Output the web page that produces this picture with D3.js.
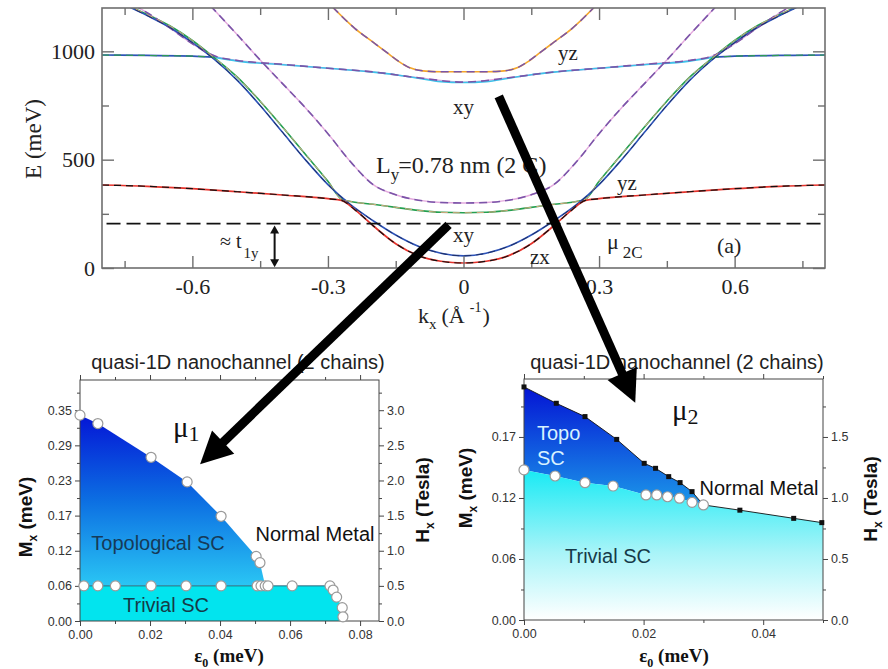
<!DOCTYPE html>
<html><head><meta charset="utf-8">
<script src="https://cdn.jsdelivr.net/npm/d3@7"></script>
<style>body{margin:0;background:#fff;} svg{display:block;}</style>
</head><body><svg id="c" width="888" height="669"></svg>
<script>
// ================= DATA =================
// --- Top panel: band structure E(kx), listed for kx >= 0 (bands are symmetric in kx)
const bandRed    = [[0,23],[0.05,31],[0.1,57],[0.15,112],[0.2,195],[0.24,268],[0.27,312],[0.3,320],[0.4,337],[0.5,352],[0.6,366],[0.7,377],[0.8,383]];
const bandBlue   = [[0,56],[0.05,68],[0.1,100],[0.15,152],[0.2,218],[0.25,292],[0.3,385],[0.35,500],[0.4,625],[0.45,750],[0.5,865],[0.55,960],[0.6,1040],[0.65,1110],[0.7,1165],[0.75,1215]];
const bandGreen  = [[0,255],[0.05,257],[0.1,266],[0.15,280],[0.2,294],[0.25,307],[0.27,318],[0.3,400],[0.35,525],[0.4,650],[0.45,770],[0.5,880],[0.55,968],[0.6,1050],[0.65,1118],[0.7,1170],[0.75,1218]];
const bandCyan   = [[0,856],[0.05,860],[0.1,876],[0.15,892],[0.2,904],[0.3,922],[0.4,938],[0.5,955],[0.55,972]];
const bandFlat   = [[0.55,972],[0.6,978],[0.7,981],[0.8,983]];
const bandOrange = [[0,906],[0.05,906],[0.09,910],[0.12,925],[0.14,949],[0.17,995],[0.2,1042],[0.24,1105],[0.29,1205]];
const bandF      = [[0,300],[0.05,302],[0.1,313],[0.15,338],[0.2,385],[0.25,490],[0.3,620],[0.35,740],[0.4,850],[0.45,960],[0.5,1075],[0.56,1210]];
const bandG      = [[0,858],[0.1,878],[0.2,905],[0.3,922],[0.4,940],[0.5,958],[0.55,978],[0.6,1035],[0.65,1108],[0.7,1178],[0.73,1215]];
const fermiE = 205;
const topXTicks = [-0.6,-0.3,0,0.3,0.6];
const topXTickLabels = ["-0.6","-0.3","0","0.3","0.6"];
const topXMinor = [-0.75,-0.45,-0.15,0.15,0.45,0.75];
const topYTicks = [0,500,1000];
const topYTickLabels = ["0","500","1000"];
const topYMinor = [250,750];

// --- Bottom-left phase diagram (x: eps0 meV, y: Hx Tesla)
const blUpper = [[0,2.93],[0.0051,2.81],[0.0203,2.33],[0.0306,1.98],[0.0403,1.49],[0.0503,0.92],[0.0514,0.83]];
const blFootX = 0.0529;
const blMid   = [[0.0011,0.5],[0.0051,0.5],[0.0101,0.5],[0.0203,0.5],[0.0303,0.5],[0.0403,0.5],[0.0506,0.5],[0.0517,0.5],[0.0529,0.5],[0.0537,0.5],[0.0606,0.5],[0.0714,0.5]];
const blEdge  = [[0.0714,0.5],[0.0723,0.44],[0.0733,0.34],[0.0749,0.19],[0.0751,0.06]];
const blEdgeFootX = 0.0743;
const blXTicks = [0,0.02,0.04,0.06,0.08];
const blXTickLabels = ["0.00","0.02","0.04","0.06","0.08"];
const blXMinor = [0.01,0.03,0.05,0.07];
const blYTicks = [0,0.5,1.0,1.5,2.0,2.5,3.0];
const blYLeftLabels = ["0.00","0.06","0.12","0.17","0.23","0.29","0.35"];
const blYRightLabels = ["0.0","0.5","1.0","1.5","2.0","2.5","3.0"];
const blYMinor = [0.25,0.75,1.25,1.75,2.25,2.75,3.25];

// --- Bottom-right phase diagram
const brUpper = [[0,1.91],[0.0054,1.776],[0.0102,1.667],[0.0155,1.48],[0.0201,1.284],[0.022,1.243],[0.0242,1.175],[0.0261,1.126],[0.0281,1.052]];
const brTail  = [[0.030,0.943],[0.0361,0.90],[0.0451,0.833],[0.0498,0.798],[0.05,0.795]];
const brTailSquares = [[0.0361,0.90],[0.0451,0.833],[0.0498,0.798]];
const brLower = [[0,1.23],[0.0052,1.18],[0.0102,1.125],[0.0149,1.098],[0.0204,1.025],[0.0222,1.025],[0.024,1.01],[0.026,0.998],[0.0281,0.964],[0.030,0.943]];
const brXTicks = [0,0.02,0.04];
const brXTickLabels = ["0.00","0.02","0.04"];
const brXMinor = [0.01,0.03,0.05];
const brYTicks = [0,0.5,1.0,1.5];
const brYLeftLabels = ["0.00","0.06","0.12","0.17"];
const brYRightLabels = ["0.0","0.5","1.0","1.5"];
const brYMinor = [0.25,0.75,1.25,1.75];

// --- Arrow anchors (data units of the panels they connect)
const arrow1From = [-0.033,199];   // top panel (k, E)
const arrow1To   = [0.0343,2.23];  // bottom-left (eps, H)
const arrow2From = [0.078,792];    // top panel
const arrow2To   = [0.0186,1.78];  // bottom-right

// ================= DRAWING =================
const svg = d3.select("#c");
const SERIF = "'Liberation Serif','Times New Roman',serif";
const SANS = "'Liberation Sans',Arial,sans-serif";
const defs = svg.append("defs");

// ---------- Top panel ----------
const xT = d3.scaleLinear().domain([-0.8,0.8]).range([102,825]);
const yT = d3.scaleLinear().domain([0,1200]).range([268,8]);
defs.append("clipPath").attr("id","clipT").append("rect")
  .attr("x",102).attr("y",8).attr("width",723).attr("height",260);

const mirror = h => h.filter(d=>d[0]>0).map(d=>[-d[0],d[1]]).reverse().concat(h);
const leftOnly = h => h.map(d=>[-d[0],d[1]]).reverse();
const lineT = d3.line().x(d=>xT(d[0])).y(d=>yT(d[1])).curve(d3.curveMonotoneX);

const gT = svg.append("g").attr("clip-path","url(#clipT)");
const draw = (data,color,w,dash) => gT.append("path").attr("d",lineT(data))
  .attr("fill","none").attr("stroke",color).attr("stroke-width",w)
  .attr("stroke-dasharray",dash||null).attr("stroke-linecap","butt");

draw(mirror(bandG),"#e4aade",1.4);
draw(mirror(bandF),"#e4aade",1.4);
draw(mirror(bandCyan),"#3cc2ea",1.6);
draw(leftOnly(bandFlat),"#2d55b5",1.7);
draw(bandFlat,"#2d55b5",1.7);
draw(mirror(bandOrange),"#f4a62a",1.6);
draw(mirror(bandGreen),"#23a050",1.6);
draw(mirror(bandBlue),"#2c52b8",1.6);
draw(mirror(bandRed),"#e5322b",1.7);
// dashed overlays
draw(mirror(bandG),"#7a55a8",1.6,"8,5");
draw(mirror(bandF),"#7a55a8",1.6,"8,5");
draw(mirror(bandOrange),"#7a55a8",1.5,"8,5");
draw(leftOnly(bandFlat),"#2e9a55",1.2,"7,5");
draw(bandFlat,"#2e9a55",1.2,"7,5");
draw(mirror(bandGreen),"#d8a77c",1.0,"7,5");
draw(mirror(bandBlue),"#1d2a5a",0.9,"7,5");
draw(mirror(bandRed),"#111",1.2,"7,5");
// Fermi-level dashed line
gT.append("line").attr("x1",xT(-0.79)).attr("x2",xT(0.8))
  .attr("y1",yT(fermiE)).attr("y2",yT(fermiE))
  .attr("stroke","#111").attr("stroke-width",1.7).attr("stroke-dasharray","14,6");

// frame & ticks
const frameCol = "#6e6e6e";
svg.append("rect").attr("x",102).attr("y",8).attr("width",723).attr("height",260)
  .attr("fill","none").attr("stroke",frameCol).attr("stroke-width",1.6);
function styleAxis(g, size, col){
  g.select(".domain").remove();
  g.selectAll(".tick line").attr("stroke",col).attr("stroke-width",1.4);
  g.selectAll(".tick text").attr("font-family",SERIF).attr("font-size",size).attr("fill","#222");
}
let ax;
ax = svg.append("g").attr("transform","translate(0,268)")
  .call(d3.axisBottom(xT).tickValues(topXTicks).tickSize(-12).tickPadding(10).tickFormat((d,i)=>topXTickLabels[i]));
styleAxis(ax,22,frameCol);
ax = svg.append("g").attr("transform","translate(0,268)")
  .call(d3.axisBottom(xT).tickValues(topXMinor).tickSize(-7).tickFormat(""));
styleAxis(ax,22,frameCol);
ax = svg.append("g").attr("transform","translate(0,8)")
  .call(d3.axisTop(xT).tickValues(topXTicks).tickSize(-12).tickFormat(""));
styleAxis(ax,22,frameCol);
ax = svg.append("g").attr("transform","translate(0,8)")
  .call(d3.axisTop(xT).tickValues(topXMinor).tickSize(-7).tickFormat(""));
styleAxis(ax,22,frameCol);
ax = svg.append("g").attr("transform","translate(102,0)")
  .call(d3.axisLeft(yT).tickValues(topYTicks).tickSize(-12).tickPadding(7).tickFormat((d,i)=>topYTickLabels[i]));
styleAxis(ax,22,frameCol);
ax = svg.append("g").attr("transform","translate(102,0)")
  .call(d3.axisLeft(yT).tickValues(topYMinor).tickSize(-7).tickFormat(""));
styleAxis(ax,22,frameCol);
ax = svg.append("g").attr("transform","translate(825,0)")
  .call(d3.axisRight(yT).tickValues(topYTicks).tickSize(-12).tickFormat(""));
styleAxis(ax,22,frameCol);
ax = svg.append("g").attr("transform","translate(825,0)")
  .call(d3.axisRight(yT).tickValues(topYMinor).tickSize(-7).tickFormat(""));
styleAxis(ax,22,frameCol);

// axis labels
svg.append("text").attr("transform","translate(41,139) rotate(-90)").attr("text-anchor","middle")
  .attr("font-family",SERIF).attr("font-size",23).attr("fill","#222").text("E (meV)");
(function(){
  const t = svg.append("text").attr("x",418).attr("y",323).attr("font-family",SERIF).attr("font-size",22).attr("fill","#222");
  t.append("tspan").text("k");
  t.append("tspan").attr("font-size",15).attr("dy",6).text("x");
  t.append("tspan").attr("dy",-6).attr("dx",5).text("(Å");
  t.append("tspan").attr("font-size",14).attr("dy",-11).attr("dx",5).text("-1");
  t.append("tspan").attr("dy",11).attr("dx",1).text(")");
})();

// annotations
const ann = (x,y,s,txt)=>svg.append("text").attr("x",x).attr("y",y).attr("font-family",SERIF)
  .attr("font-size",s).attr("fill","#222").text(txt);
ann(558,60,21,"yz");
ann(453,114,21,"xy");
ann(617,190,21,"yz");
ann(453,242,21,"xy");
ann(530,264,21,"zx");
ann(717,253,22,"(a)");
(function(){
  const t = svg.append("text").attr("x",376).attr("y",173).attr("font-family",SERIF).attr("font-size",24).attr("fill","#222");
  t.append("tspan").text("L");
  t.append("tspan").attr("font-size",17).attr("dy",7).text("y");
  t.append("tspan").attr("dy",-7).attr("dx",-1).text("=0.78 nm (2 C)");
  const m = svg.append("text").attr("x",607).attr("y",249).attr("font-family",SERIF).attr("font-size",22).attr("fill","#222");
  m.append("tspan").text("μ");
  m.append("tspan").attr("font-size",17).attr("dy",9).attr("dx",4).text("2C");
  const t1 = svg.append("text").attr("x",220).attr("y",248).attr("font-family",SERIF).attr("font-size",20).attr("fill","#222");
  t1.append("tspan").text("≈ t");
  t1.append("tspan").attr("font-size",15).attr("dy",10).attr("dx",2).text("1y");
})();
// double arrow (≈ t1y)
(function(){
  const x = xT(-0.418), y1 = yT(fermiE)+2, y2 = yT(4);
  svg.append("line").attr("x1",x).attr("x2",x).attr("y1",y1+6).attr("y2",y2-6).attr("stroke","#111").attr("stroke-width",2);
  svg.append("path").attr("d",`M${x},${y1} L${x-4.5},${y1+8} L${x+4.5},${y1+8}Z`).attr("fill","#111");
  svg.append("path").attr("d",`M${x},${y2} L${x-4.5},${y2-8} L${x+4.5},${y2-8}Z`).attr("fill","#111");
})();

// ---------- Bottom panels: shared helpers ----------
function phaseAxes(x,y,x0,x1,y0,y1,xT1,xL1,xMin,yT1,yLL,yRL,yMin){
  const col="#444";
  const st = (g)=>{ g.select(".domain").remove();
    g.selectAll(".tick line").attr("stroke",col).attr("stroke-width",1);
    g.selectAll(".tick text").attr("font-family",SANS).attr("font-size",12.5).attr("fill","#333"); };
  let a;
  a=svg.append("g").attr("transform",`translate(0,${y1})`).call(d3.axisBottom(x).tickValues(xT1).tickSize(5).tickPadding(4).tickFormat((d,i)=>xL1[i])); st(a);
  a=svg.append("g").attr("transform",`translate(0,${y1})`).call(d3.axisBottom(x).tickValues(xMin).tickSize(3).tickFormat("")); st(a);
  a=svg.append("g").attr("transform",`translate(0,${y0})`).call(d3.axisTop(x).tickValues(xT1).tickSize(5).tickFormat("")); st(a);
  a=svg.append("g").attr("transform",`translate(0,${y0})`).call(d3.axisTop(x).tickValues(xMin).tickSize(3).tickFormat("")); st(a);
  a=svg.append("g").attr("transform",`translate(${x0},0)`).call(d3.axisLeft(y).tickValues(yT1).tickSize(5).tickPadding(3).tickFormat((d,i)=>yLL[i])); st(a);
  a=svg.append("g").attr("transform",`translate(${x0},0)`).call(d3.axisLeft(y).tickValues(yMin).tickSize(3).tickFormat("")); st(a);
  a=svg.append("g").attr("transform",`translate(${x1},0)`).call(d3.axisRight(y).tickValues(yT1).tickSize(5).tickPadding(3).tickFormat((d,i)=>yRL[i])); st(a);
  a=svg.append("g").attr("transform",`translate(${x1},0)`).call(d3.axisRight(y).tickValues(yMin).tickSize(3).tickFormat("")); st(a);
  svg.append("rect").attr("x",x0).attr("y",y0).attr("width",x1-x0).attr("height",y1-y0)
    .attr("fill","none").attr("stroke",col).attr("stroke-width",1);
}
function grad(id,y0,y1,stops){
  const g=defs.append("linearGradient").attr("id",id).attr("gradientUnits","userSpaceOnUse")
    .attr("x1",0).attr("x2",0).attr("y1",y0).attr("y2",y1);
  stops.forEach(s=>g.append("stop").attr("offset",s[0]).attr("stop-color",s[1]));
}
function phaseLabels(cx, cy, rx, title){
  svg.append("text").attr("x",cx).attr("y",369).attr("text-anchor","middle").attr("font-family",SANS)
    .attr("font-size",20).attr("fill","#222").text(title);
  const ml = svg.append("text").attr("transform",`translate(${cy[0]},${cy[1]}) rotate(-90)`).attr("text-anchor","middle")
    .attr("font-family",SANS).attr("font-weight","bold").attr("font-size",19).attr("fill","#111");
  ml.append("tspan").text("M"); ml.append("tspan").attr("font-size",12).attr("dy",5).text("x");
  ml.append("tspan").attr("dy",-5).text(" (meV)");
  const hl = svg.append("text").attr("transform",`translate(${rx[0]},${rx[1]}) rotate(-90)`).attr("text-anchor","middle")
    .attr("font-family",SANS).attr("font-weight","bold").attr("font-size",19).attr("fill","#111");
  hl.append("tspan").text("H"); hl.append("tspan").attr("font-size",12).attr("dy",5).text("x");
  hl.append("tspan").attr("dy",-5).text(" (Tesla)");
}
function epsLabel(cx){
  const t = svg.append("text").attr("x",cx).attr("y",662).attr("text-anchor","middle").attr("font-family",SERIF)
    .attr("font-weight","bold").attr("font-size",19).attr("fill","#111");
  t.append("tspan").text("ε"); t.append("tspan").attr("font-size",12).attr("dy",5).text("0");
  t.append("tspan").attr("dy",-5).text(" (meV)");
}
function muLabel(x,y,sub){
  const t = svg.append("text").attr("x",x).attr("y",y).attr("font-family",SERIF).attr("font-size",29).attr("fill","#111");
  t.append("tspan").text("μ"); t.append("tspan").attr("font-size",22).attr("dy",4).text(sub);
}

// ---------- Bottom-left ----------
const xL = d3.scaleLinear().domain([0,0.0854]).range([80,379]);
const yL = d3.scaleLinear().domain([0,3.43]).range([621,380]);
const polyL = d3.line().x(d=>xL(d[0])).y(d=>yL(d[1]));
grad("gTopoL", yL(2.95), yL(0.5), [[0,"#0414d6"],[0.5,"#0c6ee2"],[1,"#2ac6f4"]]);
svg.append("path").attr("d", polyL([[0,0.5],...blUpper,[blFootX,0.5]])+"Z").attr("fill","url(#gTopoL)");
svg.append("path").attr("d", polyL([[0,0],[0,0.5],...blEdge,[blEdgeFootX,0]])+"Z").attr("fill","#02e4ee");
svg.append("line").attr("x1",xL(0)).attr("x2",xL(blEdge[0][0])).attr("y1",yL(0.5)).attr("y2",yL(0.5))
  .attr("stroke","#2a5a70").attr("stroke-width",0.9);
phaseAxes(xL,yL,80,379,380,621,blXTicks,blXTickLabels,blXMinor,blYTicks,blYLeftLabels,blYRightLabels,blYMinor);
svg.selectAll("circle.bl").data([...blUpper,...blMid,...blEdge.slice(1)]).enter().append("circle")
  .attr("cx",d=>xL(d[0])).attr("cy",d=>yL(d[1])).attr("r",5)
  .attr("fill","#fff").attr("stroke","#9a9a9a").attr("stroke-width",1.2);
phaseLabels(238,[32,517],[429,500],"quasi-1D nanochannel (2 chains)");
epsLabel(229);
const lab = (x,y,txt,col,anchor)=>svg.append("text").attr("x",x).attr("y",y).attr("text-anchor",anchor||"middle")
  .attr("font-family",SANS).attr("font-size",20).attr("fill",col).text(txt);
lab(158,550,"Topological SC","#163a58");
lab(315,541,"Normal Metal","#111");
lab(166,612,"Trivial SC","#163a48");
muLabel(173,437,"1");

// ---------- Bottom-right ----------
const xR = d3.scaleLinear().domain([0,0.05]).range([524,823]);
const yR = d3.scaleLinear().domain([0,1.975]).range([620,379]);
const polyR = d3.line().x(d=>xR(d[0])).y(d=>yR(d[1]));
grad("gTopoR", yR(1.91), yR(1.0), [[0,"#0414d4"],[1,"#1a90e8"]]);
grad("gTrivR", yR(1.23), yR(0), [[0,"#18eaf4"],[0.55,"#a8f4f8"],[1,"#ffffff"]]);
svg.append("path").attr("d", polyR([...brUpper, ...brLower.slice().reverse()])+"Z").attr("fill","url(#gTopoR)");
svg.append("path").attr("d", polyR([[0,0],...brLower,...brTail.slice(1),[0.05,0]])+"Z").attr("fill","url(#gTrivR)");
svg.append("path").attr("d", polyR([...brUpper,...brTail])).attr("fill","none").attr("stroke","#111").attr("stroke-width",0.9);
phaseAxes(xR,yR,524,823,379,620,brXTicks,brXTickLabels,brXMinor,brYTicks,brYLeftLabels,brYRightLabels,brYMinor);
svg.selectAll("rect.sq").data([...brUpper,...brTailSquares]).enter().append("rect")
  .attr("x",d=>xR(d[0])-2.5).attr("y",d=>yR(d[1])-2.5).attr("width",5).attr("height",5).attr("fill","#111");
svg.selectAll("circle.br").data(brLower).enter().append("circle")
  .attr("cx",d=>xR(d[0])).attr("cy",d=>yR(d[1])).attr("r",5)
  .attr("fill","#fff").attr("stroke","#9a9a9a").attr("stroke-width",1.2);
phaseLabels(677,[472,488],[877,499],"quasi-1D nanochannel (2 chains)");
epsLabel(674);
lab(537,440,"Topo","#d8f2ff","start");
lab(537,465,"SC","#d8f2ff","start");
lab(759,495,"Normal Metal","#111");
lab(608,563,"Trivial SC","#163a48");
muLabel(672,420,"2");

// ---------- Big arrows ----------
function bigArrow(p1,p2){
  const dx=p2[0]-p1[0], dy=p2[1]-p1[1], L=Math.hypot(dx,dy), ux=dx/L, uy=dy/L;
  const hl=32, hw=16;
  const bx=p2[0]-ux*hl, by=p2[1]-uy*hl;
  svg.append("line").attr("x1",p1[0]).attr("y1",p1[1]).attr("x2",bx+ux*4).attr("y2",by+uy*4)
    .attr("stroke","#000").attr("stroke-width",9);
  svg.append("path").attr("d",`M${p2[0]},${p2[1]} L${bx-uy*hw},${by+ux*hw} L${bx+uy*hw},${by-ux*hw}Z`).attr("fill","#000");
}
bigArrow([xT(arrow1From[0]),yT(arrow1From[1])],[xL(arrow1To[0]),yL(arrow1To[1])]);
bigArrow([xT(arrow2From[0]),yT(arrow2From[1])],[xR(arrow2To[0]),yR(arrow2To[1])]);
</script>
</body></html>
